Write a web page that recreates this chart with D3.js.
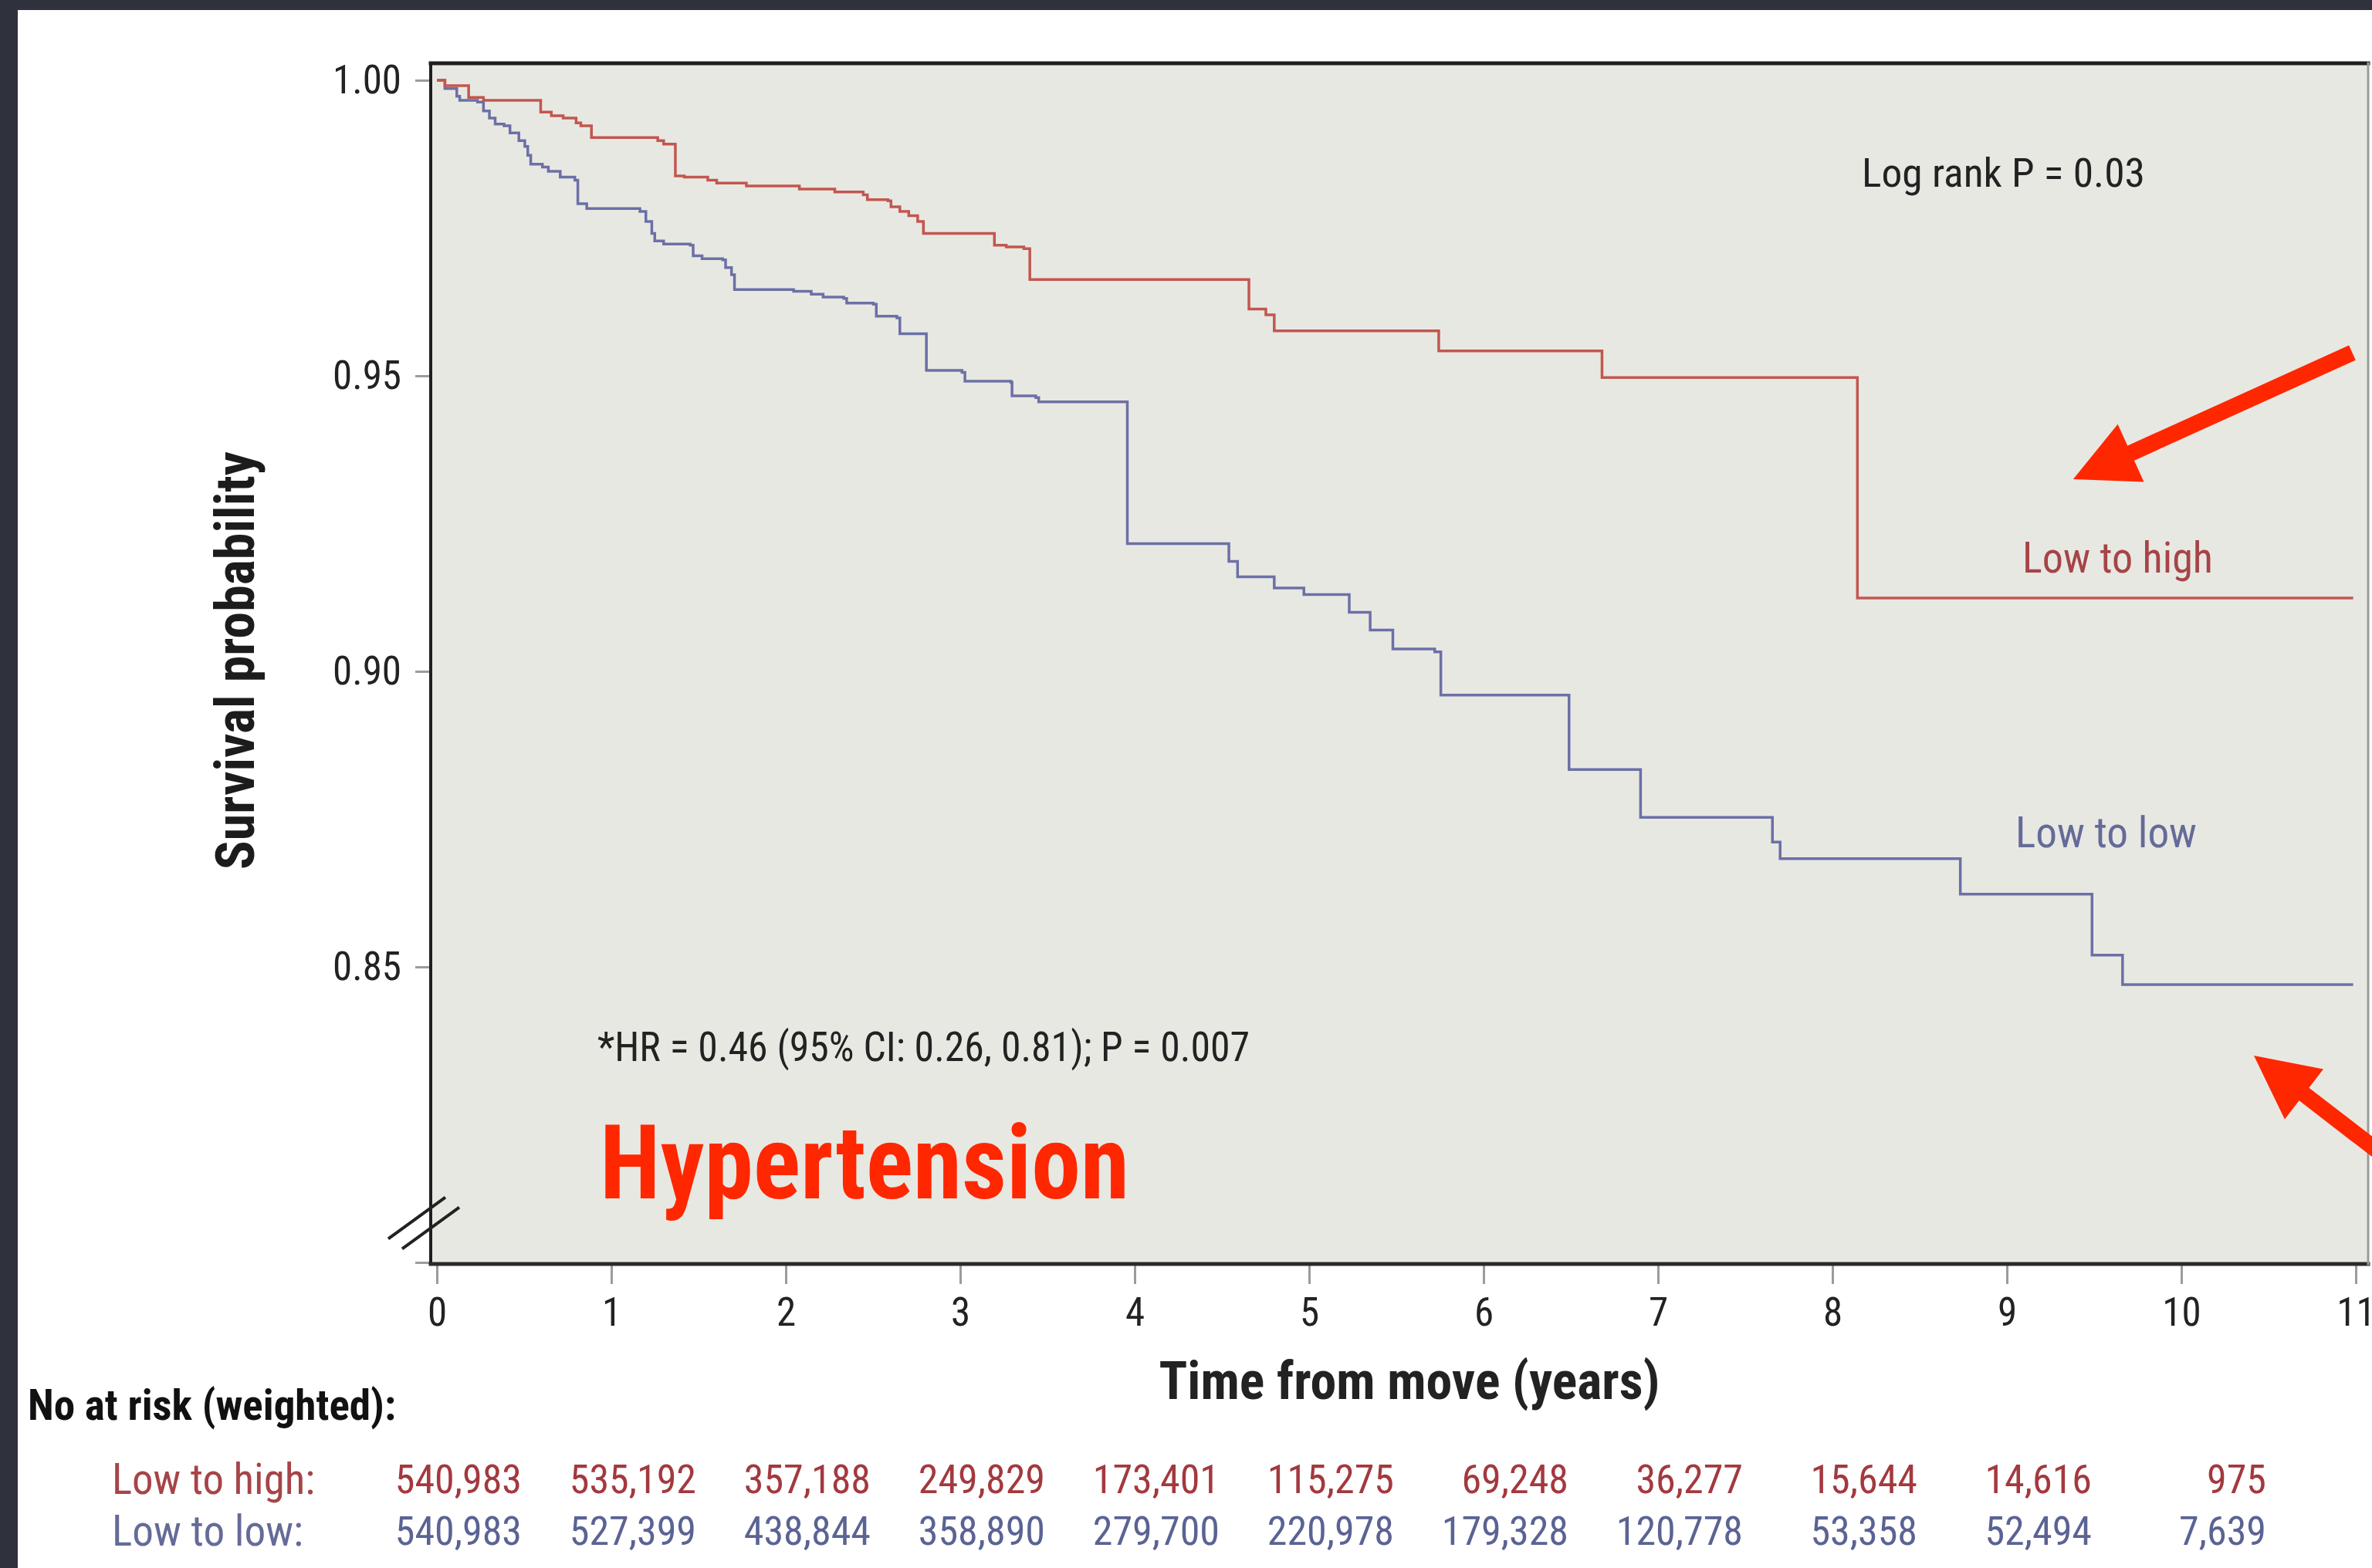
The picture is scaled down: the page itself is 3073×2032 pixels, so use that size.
<!DOCTYPE html>
<html>
<head>
<meta charset="utf-8">
<script src="https://cdn.jsdelivr.net/npm/d3@7"></script>
<style>
  html, body { margin: 0; padding: 0; background: #ffffff; }
  svg { display: block; }
  text { font-family: "Liberation Sans Narrow", "Arial Narrow", "Roboto Condensed", "DejaVu Sans Condensed", "Liberation Sans", sans-serif; }
</style>
</head>
<body>
<svg id="chart" width="3073" height="2032"></svg>
<script>
// ---- data -------------------------------------------------------------
const yearTicks = [0, 1, 2, 3, 4, 5, 6, 7, 8, 9, 10, 11];
const survivalTicks = [0.80, 0.85, 0.90, 0.95, 1.00];

// Kaplan-Meier steps: [time in years, survival after the step]
const lowToHigh = [
  [0, 1.000], [0.046, 0.9991], [0.182, 0.9971], [0.267, 0.9966], [0.595, 0.9946],
  [0.656, 0.9940], [0.724, 0.9936], [0.798, 0.9928], [0.825, 0.9923], [0.886, 0.9903],
  [1.266, 0.9898], [1.300, 0.9892], [1.367, 0.9838], [1.418, 0.9836], [1.553, 0.9831],
  [1.604, 0.9826], [1.774, 0.9821], [2.078, 0.9816], [2.281, 0.9811], [2.444, 0.9806],
  [2.468, 0.9798], [2.586, 0.9796], [2.603, 0.9786], [2.654, 0.9778], [2.705, 0.9771],
  [2.756, 0.9761], [2.789, 0.9741], [3.196, 0.9721], [3.264, 0.9718], [3.365, 0.9715],
  [3.399, 0.9663], [4.655, 0.9613], [4.752, 0.9603], [4.800, 0.9576], [5.743, 0.9542],
  [6.679, 0.9497], [8.143, 0.9124]
];
const lowToLow = [
  [0, 1.000], [0.046, 0.9986], [0.114, 0.9973], [0.131, 0.9966], [0.233, 0.9963],
  [0.267, 0.9948], [0.301, 0.9936], [0.334, 0.9926], [0.385, 0.9923], [0.419, 0.9911],
  [0.470, 0.9898], [0.504, 0.9888], [0.521, 0.9873], [0.538, 0.9858], [0.605, 0.9853],
  [0.639, 0.9846], [0.707, 0.9836], [0.791, 0.9831], [0.808, 0.9791], [0.859, 0.9783],
  [1.164, 0.9778], [1.198, 0.9761], [1.232, 0.9741], [1.249, 0.9728], [1.300, 0.9723],
  [1.452, 0.9721], [1.469, 0.9703], [1.520, 0.9698], [1.638, 0.9696], [1.655, 0.9683],
  [1.689, 0.9671], [1.706, 0.9646], [2.045, 0.9643], [2.146, 0.9638], [2.214, 0.9633],
  [2.332, 0.9631], [2.349, 0.9623], [2.502, 0.9621], [2.519, 0.9601], [2.637, 0.9598],
  [2.654, 0.9571], [2.806, 0.9509], [3.010, 0.9506], [3.027, 0.9491], [3.291, 0.9489],
  [3.297, 0.9466], [3.433, 0.9463], [3.450, 0.9456], [3.958, 0.9216], [4.540, 0.9186],
  [4.590, 0.9160], [4.800, 0.9141], [4.970, 0.9130], [5.230, 0.9100], [5.350, 0.9070],
  [5.480, 0.9038], [5.720, 0.9033], [5.755, 0.8960], [6.490, 0.8834], [6.900, 0.8753],
  [7.656, 0.8711], [7.700, 0.8683], [8.733, 0.8623], [9.488, 0.8520], [9.663, 0.8470]
];
const followUpEnd = 10.985;

// Numbers at risk (weighted) at each whole year
const riskYears = [0, 1, 2, 3, 4, 5, 6, 7, 8, 9, 10];
const riskLowToHigh = ["540,983", "535,192", "357,188", "249,829", "173,401", "115,275", "69,248", "36,277", "15,644", "14,616", "975"];
const riskLowToLow  = ["540,983", "527,399", "438,844", "358,890", "279,700", "220,978", "179,328", "120,778", "53,358", "52,494", "7,639"];

// ---- layout -----------------------------------------------------------
const W = 3073, H = 2032;
const frame = { left: 558, top: 82, right: 3068, bottom: 1638 };

const x = d3.scaleLinear().domain([0, 11]).range([566, 3052]);
const y = d3.scaleLinear().domain([0.80, 1.00]).range([1636, 104]);

const colHigh = "#c2574f", colLow = "#6b70a6";
const txtHigh = "#a64447", txtLow = "#656b98";
const accent = "#ff2700";

const svg = d3.select("#chart");

// page background and dark margin strips
svg.append("rect").attr("width", W).attr("height", H).attr("fill", "#ffffff");
svg.append("rect").attr("x", 0).attr("y", 0).attr("width", 23).attr("height", H).attr("fill", "#2f323d");
svg.append("rect").attr("x", 0).attr("y", 0).attr("width", W).attr("height", 13).attr("fill", "#2f323d");

// plotting panel
svg.append("rect")
  .attr("x", frame.left).attr("y", frame.top)
  .attr("width", frame.right - frame.left).attr("height", frame.bottom - frame.top)
  .attr("fill", "#e8e8e3");

// y axis
const yAxis = svg.append("g")
  .attr("transform", `translate(${frame.left - 1},0)`)
  .call(d3.axisLeft(y).tickValues(survivalTicks).tickSize(19).tickPadding(18)
    .tickFormat(d => d === 0.80 ? "" : d3.format(".2f")(d)));
yAxis.select(".domain").remove();
yAxis.selectAll(".tick line").attr("stroke", "#9a9d98").attr("stroke-width", 3);
yAxis.selectAll(".tick text").attr("font-size", 51).attr("fill", "#222").attr("font-family", null);

// x axis (the last label runs off the right edge of the page)
const xAxis = svg.append("g")
  .attr("transform", `translate(0,${frame.bottom + 2})`)
  .call(d3.axisBottom(x).tickValues(yearTicks).tickSize(24).tickPadding(18).tickFormat(d3.format("d")));
xAxis.select(".domain").remove();
xAxis.selectAll(".tick line").attr("stroke", "#9a9d98").attr("stroke-width", 3);
xAxis.selectAll(".tick text").attr("font-size", 51).attr("fill", "#222").attr("font-family", null);

// frame lines
const frameG = svg.append("g").attr("stroke-linecap", "square");
frameG.append("line").attr("x1", frame.left).attr("x2", frame.right).attr("y1", frame.top).attr("y2", frame.top)
  .attr("stroke", "#1f1f1f").attr("stroke-width", 5);
frameG.append("line").attr("x1", frame.left).attr("x2", frame.left).attr("y1", frame.top).attr("y2", frame.bottom)
  .attr("stroke", "#1f1f1f").attr("stroke-width", 4);
frameG.append("line").attr("x1", frame.left).attr("x2", frame.right).attr("y1", frame.bottom).attr("y2", frame.bottom)
  .attr("stroke", "#2a2a2a").attr("stroke-width", 5);
frameG.append("line").attr("x1", frame.right).attr("x2", frame.right).attr("y1", frame.top).attr("y2", frame.bottom)
  .attr("stroke", "#9b9b98").attr("stroke-width", 3);

// axis break marks across the lower y axis
const brk = svg.append("g").attr("stroke", "#222").attr("stroke-width", 4);
[[0, 0], [18, 13]].forEach(([dx, dy]) => {
  brk.append("line")
    .attr("x1", 503 + dx).attr("y1", y(0.8040) + dy)
    .attr("x2", 577 + dx).attr("y2", y(0.8110) + dy);
});

// survival curves
const step = d3.line().x(d => x(d[0])).y(d => y(d[1])).curve(d3.curveStepAfter);
function withEnd(series) {
  return series.concat([[followUpEnd, series[series.length - 1][1]]]);
}
svg.append("path").datum(withEnd(lowToLow))
  .attr("d", step).attr("fill", "none").attr("stroke", colLow).attr("stroke-width", 3.5);
svg.append("path").datum(withEnd(lowToHigh))
  .attr("d", step).attr("fill", "none").attr("stroke", colHigh).attr("stroke-width", 3.5);

// text helper
function label(txt, px, py, opts) {
  const t = svg.append("text").attr("x", px).attr("y", py).text(txt)
    .attr("font-size", opts.size).attr("fill", opts.fill || "#222")
    .attr("font-weight", opts.bold ? "bold" : "normal")
    .attr("text-anchor", opts.anchor || "start");
  if (opts.len) t.attr("textLength", opts.len).attr("lengthAdjust", "spacingAndGlyphs");
  return t;
}

// annotations inside the panel
label("Log rank P = 0.03", 2412, 242, { size: 52, len: 367 });
label("Low to high", 2620, 742, { size: 55, fill: txtHigh, len: 247 });
label("Low to low", 2611, 1098, { size: 55, fill: txtLow, len: 235 });
label("*HR = 0.46 (95% CI: 0.26, 0.81); P = 0.007", 774, 1375, { size: 54, len: 845 });
label("Hypertension", 777, 1553, { size: 133, bold: true, fill: accent, len: 686 });

// red call-out arrows, positioned in data space
function arrow(from, to) {
  const x0 = x(from[0]), y0 = y(from[1]), x1 = x(to[0]), y1 = y(to[1]);
  const dx = x1 - x0, dy = y1 - y0, L = Math.hypot(dx, dy);
  const ux = dx / L, uy = dy / L, px = -uy, py = ux;
  const headLen = 82, headHalf = 41;
  const bx = x1 - ux * headLen, by = y1 - uy * headLen;
  svg.append("line").attr("x1", x0).attr("y1", y0).attr("x2", bx + ux * 4).attr("y2", by + uy * 4)
    .attr("stroke", accent).attr("stroke-width", 21);
  svg.append("path")
    .attr("d", `M${x1},${y1}L${bx + px * headHalf},${by + py * headHalf}L${bx - px * headHalf},${by - py * headHalf}Z`)
    .attr("fill", accent);
}
arrow([10.98, 0.9539], [9.38, 0.9325]);
arrow([11.26, 0.8158], [10.416, 0.8350]);

// axis titles
label("Time from move (years)", 1826, 1813, { size: 68, bold: true, anchor: "middle", len: 649 });
svg.append("text")
  .attr("transform", "translate(329,856) rotate(-90)")
  .attr("text-anchor", "middle").attr("font-size", 70).attr("font-weight", "bold").attr("fill", "#1c1c1c")
  .attr("textLength", 542).attr("lengthAdjust", "spacingAndGlyphs")
  .text("Survival probability");

// numbers at risk table
label("No at risk (weighted):", 36, 1840, { size: 55, bold: true, fill: "#111", len: 477 });
label("Low to high:", 145, 1936, { size: 55, fill: txtHigh, len: 263 });
label("Low to low:", 145, 2003, { size: 55, fill: txtLow, len: 248 });

svg.append("g").selectAll("text").data(riskYears).join("text")
  .attr("x", d => x(d) + 110).attr("y", 1935)
  .attr("text-anchor", "end").attr("font-size", 52).attr("fill", "#a3393e")
  .text((d, i) => riskLowToHigh[i]);
svg.append("g").selectAll("text").data(riskYears).join("text")
  .attr("x", d => x(d) + 110).attr("y", 2002)
  .attr("text-anchor", "end").attr("font-size", 52).attr("fill", "#5b6393")
  .text((d, i) => riskLowToLow[i]);
</script>
</body>
</html>
